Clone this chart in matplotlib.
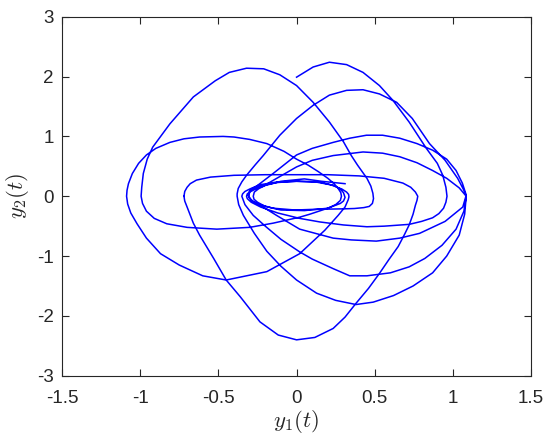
#!/usr/bin/env python3
"""Phase portrait y2(t) against y1(t), traced from the reference figure."""

import numpy as np
import matplotlib
matplotlib.use("Agg")
import matplotlib.pyplot as plt

# --- traced arcs of the trajectory (y1, y2), in drawing order ---
# start at (0, 2), big upper swing to the tip near y1 = 0.96
ua_y1 = [0.0, 0.106, 0.21, 0.32, 0.425, 0.53, 0.617, 0.72, 0.83, 0.90, 0.935, 0.955,
         0.962, 0.955, 0.94]
ua_y2 = [1.99, 2.16, 2.24, 2.2, 2.07, 1.85, 1.6, 1.24, 0.80, 0.55, 0.35, 0.15, 0.0,
         -0.1, -0.2]
# lower arc, bottom near -0.51
lf_y1 = [0.91, 0.87, 0.80, 0.72, 0.56, 0.45, 0.3, 0.15, 0.02, -0.12, -0.23, -0.29,
         -0.315, -0.32]
lf_y2 = [-0.29, -0.36, -0.42, -0.47, -0.50, -0.51, -0.48, -0.43, -0.37, -0.28, -0.18,
         -0.10, -0.04, 0.0]
# upper arc, top near 0.75
uf_y1 = [-0.315, -0.30, -0.27, -0.213, -0.1, 0.0, 0.1, 0.234, 0.425, 0.55, 0.66, 0.77,
         0.87, 0.96, 1.04, 1.085]
uf_y2 = [0.04, 0.07, 0.11, 0.17, 0.34, 0.49, 0.60, 0.68, 0.74, 0.72, 0.66, 0.56, 0.43,
         0.30, 0.14, 0.0]
# lower arc, bottom near -1.8
lc_y1 = [1.075, 1.04, 0.96, 0.87, 0.745, 0.62, 0.49, 0.38, 0.25, 0.128, 0.0, -0.1,
         -0.19, -0.27, -0.34, -0.37, -0.38]
lc_y2 = [-0.3, -0.65, -1.0, -1.28, -1.5, -1.66, -1.77, -1.81, -1.74, -1.62, -1.4, -1.17,
         -0.92, -0.62, -0.32, -0.14, 0.0]
# upper arc, top near 1.78
uc_y1 = [-0.38, -0.373, -0.35, -0.32, -0.266, -0.213, -0.107, 0.0, 0.106, 0.21, 0.32,
         0.425, 0.53, 0.64, 0.74, 0.85, 0.95, 1.03, 1.07, 1.085]
uc_y2 = [0.04, 0.13, 0.24, 0.35, 0.52, 0.68, 1.02, 1.30, 1.52, 1.69, 1.77, 1.78, 1.71,
         1.57, 1.30, 0.88, 0.6, 0.3, 0.1, 0.0]
# lower arc, bottom near -1.33
ld_y1 = [1.07, 1.02, 0.93, 0.82, 0.72, 0.6, 0.45, 0.34, 0.234, 0.1, 0.02, -0.1, -0.2,
         -0.277, -0.33, -0.35]
ld_y2 = [-0.25, -0.55, -0.82, -1.04, -1.18, -1.28, -1.33, -1.33, -1.21, -1.05, -0.93,
         -0.72, -0.5, -0.32, -0.14, 0.0]
# upper arc, top near 1.04
ue_y1 = [-0.345, -0.33, -0.30, -0.255, -0.15, 0.0, 0.1, 0.234, 0.34, 0.447, 0.55, 0.66,
         0.77, 0.87, 0.96, 1.02, 1.06, 1.085]
ue_y2 = [0.04, 0.08, 0.12, 0.17, 0.38, 0.69, 0.80, 0.90, 0.97, 1.02, 1.02, 0.97, 0.88,
         0.77, 0.62, 0.43, 0.22, 0.02]
# lower arc, bottom near -0.76
le_y1 = [1.063, 0.95, 0.787, 0.66, 0.51, 0.35, 0.234, 0.02, -0.128, -0.22, -0.28,
         -0.305, -0.31]
le_y2 = [-0.18, -0.42, -0.62, -0.70, -0.75, -0.73, -0.70, -0.55, -0.32, -0.17, -0.08,
         -0.02, 0.03]
# small inner upper arc to the right tip near 0.33
ui_y1 = [-0.30, -0.24, -0.12, 0.0, 0.12, 0.22, 0.29, 0.32, 0.333, 0.335]
ui_y2 = [0.09, 0.17, 0.23, 0.25, 0.24, 0.19, 0.12, 0.07, 0.03, -0.01]
# lower arc to the outer left tip, bottom near -1.4
lb_y1 = [0.33, 0.31, 0.266, 0.18, 0.02, -0.19, -0.45, -0.6, -0.75, -0.87, -0.96, -1.02,
         -1.06, -1.08, -1.087]
lb_y2 = [-0.06, -0.18, -0.32, -0.57, -0.96, -1.26, -1.40, -1.33, -1.15, -0.96, -0.7,
         -0.46, -0.28, -0.13, 0.0]
# upper arc from the outer left tip, top near 1.0
ud_y1 = [-1.084, -1.075, -1.05, -1.01, -0.96, -0.90, -0.81, -0.72, -0.62, -0.47, -0.40,
         -0.30, -0.19, -0.08, 0.0, 0.074, 0.14, 0.2, 0.24, 0.266, 0.283, 0.287]
ud_y2 = [0.1, 0.21, 0.38, 0.55, 0.69, 0.80, 0.90, 0.96, 0.99, 1.0, 0.99, 0.95, 0.88,
         0.75, 0.62, 0.52, 0.41, 0.30, 0.21, 0.13, 0.06, 0.0]
# lower arc to the left tip near -0.99
lg_y1 = [0.28, 0.25, 0.2, 0.085, 0.02, -0.15, -0.30, -0.51, -0.7, -0.83, -0.91, -0.96,
         -0.985, -0.994]
lg_y2 = [-0.07, -0.14, -0.2, -0.30, -0.35, -0.45, -0.52, -0.55, -0.52, -0.46, -0.37,
         -0.25, -0.12, 0.0]
# big upper arc, top near 2.14
ub_y1 = [-0.99, -0.98, -0.955, -0.92, -0.81, -0.66, -0.52, -0.43, -0.32, -0.21, -0.107,
         0.0, 0.106, 0.21, 0.30, 0.35, 0.39, 0.45, 0.475, 0.488, 0.492, 0.485]
ub_y2 = [0.15, 0.38, 0.62, 0.82, 1.21, 1.66, 1.93, 2.07, 2.14, 2.13, 2.03, 1.85, 1.57,
         1.24, 0.91, 0.68, 0.52, 0.30, 0.17, 0.05, -0.04, -0.12]
# lower arc back toward the centre
lh_y1 = [0.465, 0.43, 0.37, 0.31, 0.1, -0.01, -0.15, -0.25, -0.29, -0.305]
lh_y2 = [-0.17, -0.19, -0.205, -0.21, -0.22, -0.23, -0.20, -0.13, -0.07, 0.0]
# last inner loop, ends at (0.31, 0.21)
uz_y1 = [-0.30, -0.29, -0.24, -0.12, 0.0, 0.14, 0.24, 0.28, 0.30, 0.31, 0.30, 0.28,
         0.2, 0.05, -0.1, -0.2, -0.25, -0.272, -0.277, -0.27, -0.24, -0.2, -0.1, 0.05,
         0.16, 0.31]
uz_y2 = [0.07, 0.12, 0.19, 0.24, 0.25, 0.24, 0.18, 0.12, 0.06, -0.02, -0.08, -0.12,
         -0.2, -0.24, -0.23, -0.17, -0.1, -0.05, 0.0, 0.07, 0.13, 0.18, 0.25, 0.29,
         0.25, 0.21]

# flat upper arc and the deep lower arc (bottom near -2.4)
ug_y1 = [-0.72, -0.715, -0.70, -0.68, -0.64, -0.55, -0.4, -0.2, 0.0, 0.2, 0.4, 0.56,
         0.68, 0.73, 0.76, 0.775, 0.77]
ug_y2 = [0.0, 0.08, 0.15, 0.21, 0.27, 0.32, 0.35, 0.36, 0.36, 0.36, 0.34, 0.30, 0.22,
         0.15, 0.07, 0.0, -0.07]
la_y1 = [0.76, 0.745, 0.72, 0.69, 0.65, 0.59, 0.53, 0.46, 0.38, 0.31, 0.234, 0.117,
         0.0, -0.117, -0.234, -0.36, -0.45, -0.53, -0.62, -0.66, -0.70, -0.715, -0.72]
la_y2 = [-0.15, -0.3, -0.48, -0.64, -0.84, -1.06, -1.29, -1.54, -1.79, -2.02, -2.21,
         -2.36, -2.40, -2.32, -2.10, -1.68, -1.40, -1.04, -0.65, -0.45, -0.18, -0.08,
         0.0]

x_ticks = [-1.5, -1, -0.5, 0, 0.5, 1, 1.5]
y_ticks = [-3, -2, -1, 0, 1, 2, 3]

path_main = [(ua_y1, ua_y2), (lf_y1, lf_y2), (uf_y1, uf_y2), (lc_y1, lc_y2),
             (uc_y1, uc_y2), (ld_y1, ld_y2), (ue_y1, ue_y2), (le_y1, le_y2),
             (ui_y1, ui_y2), (lb_y1, lb_y2), (ud_y1, ud_y2), (lg_y1, lg_y2),
             (ub_y1, ub_y2), (lh_y1, lh_y2), (uz_y1, uz_y2)]
path_loop = [(ug_y1, ug_y2), (la_y1, la_y2)]


def join(parts):
    y1 = np.concatenate([p[0] for p in parts])
    y2 = np.concatenate([p[1] for p in parts])
    return y1, y2


plt.rcParams['font.family'] = ['Liberation Sans', 'DejaVu Sans']
plt.rcParams['mathtext.fontset'] = 'cm'
plt.rcParams['axes.unicode_minus'] = False

fig = plt.figure(figsize=(5.5, 4.41), dpi=100)
ax = fig.add_axes([0.1127, 0.148, 0.853, 0.814])

for parts in (path_main, path_loop):
    y1, y2 = join(parts)
    ax.plot(y1, y2, color=(0, 0, 1), linewidth=1.1, solid_joinstyle='round')

ax.set_xlim(-1.5, 1.5)
ax.set_ylim(-3, 3)
ax.set_xticks(x_ticks)
ax.set_xticklabels([f"{t:g}" for t in x_ticks])
ax.set_yticks(y_ticks)
ax.set_yticklabels([f"{t:g}" for t in y_ticks])

grey = (0.15, 0.15, 0.15)
for s in ax.spines.values():
    s.set_color(grey)
    s.set_linewidth(0.8)
ax.tick_params(direction='in', length=5, width=0.8, top=True, right=True,
               labelsize=13.5, colors=grey)
ax.tick_params(axis='x', pad=10)
ax.tick_params(axis='y', pad=6)

ax.set_xlabel(r'$y_1(t)$', fontsize=16.5, color=grey, labelpad=1)
ax.set_ylabel(r'$y_2(t)$', fontsize=16.5, color=grey, labelpad=4)

fig.savefig("out.png", dpi=100)
